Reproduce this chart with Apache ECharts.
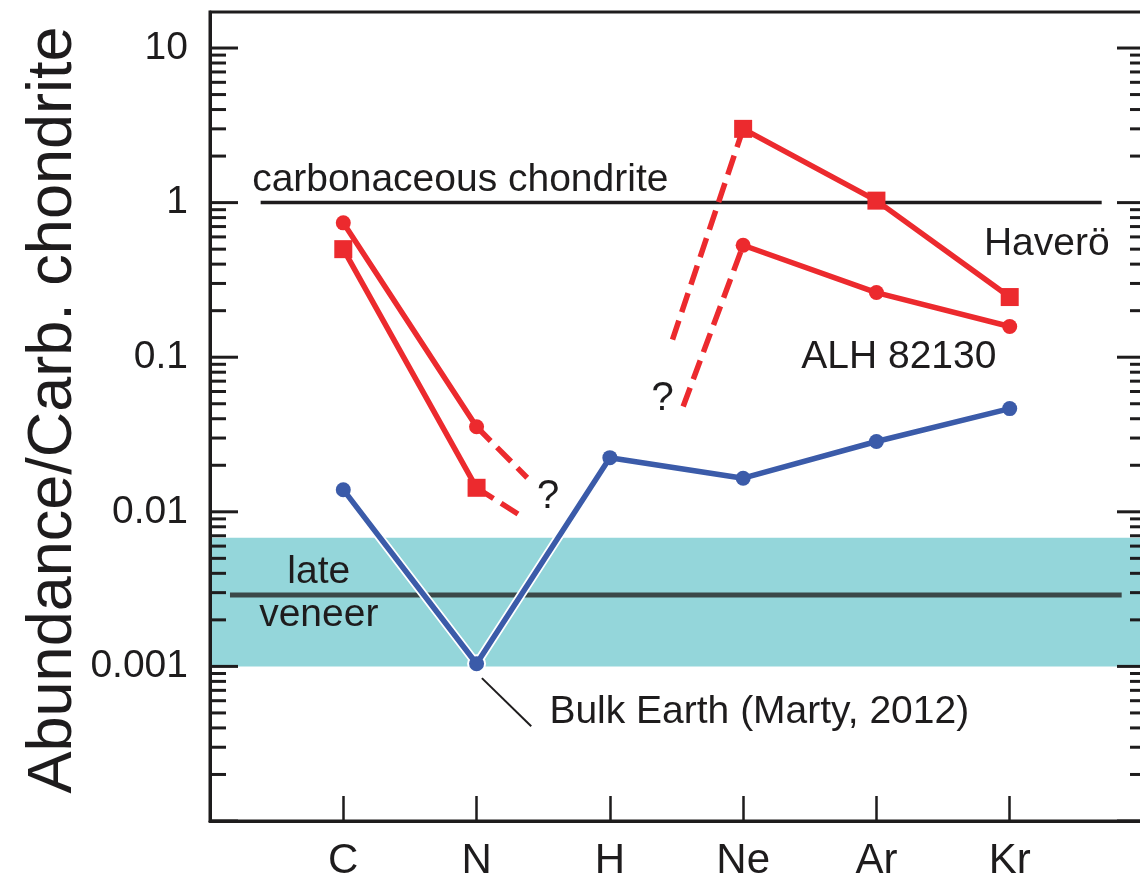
<!DOCTYPE html>
<html><head><meta charset="utf-8">
<script src="https://cdn.jsdelivr.net/npm/echarts@6/dist/echarts.min.js"></script>
<style>html,body{margin:0;padding:0;background:#fff}#c{width:1140px;height:886px}</style>
</head><body><div id="c"></div>
<script>
// ---- data ----
const categories = ['C', 'N', 'H', 'Ne', 'Ar', 'Kr'];
const haveroe   = [0.50, 0.0143, null, 3.0, 1.03, 0.245];   // squares
const alh82130  = [0.74, 0.0355, null, 0.53, 0.262, 0.158]; // circles
const bulkEarth = [0.0139, 0.00104, 0.0224, 0.0165, 0.0285, 0.0465];
// dashed "?" extensions [x (category position), value]
const haveroeExtN  = [[2, 0.0143], [2.36, 0.0091]];
const alhExtN      = [[2, 0.0355], [2.38, 0.0166]];
const haveroeExtNe = [[3.47, 0.13], [4, 3.0]];
const alhExtNe     = [[3.55, 0.048], [4, 0.53]];
// reference levels
const carbChondriteLevel = 1;
const lateVeneerLevel = 0.0029;
const lateVeneerBand = [0.001, 0.0068];
const yTickLabels = ['0.001', '0.01', '0.1', '1', '10'];
const leaderLine = [[2.04, 0.00084], [2.41, 0.00041]];
const annotations = [
  {text: 'carbonaceous chondrite', x: 0.32, y: 1.39, align: 'left'},
  {text: 'Haverö', x: 5.81, y: 0.53, align: 'left'},
  {text: 'ALH 82130', x: 4.44, y: 0.099, align: 'left'},
  {text: 'late', x: 0.82, y: 0.00405, align: 'center'},
  {text: 'veneer', x: 0.82, y: 0.00212, align: 'center'},
  {text: '?', x: 2.54, y: 0.0123, align: 'center'},
  {text: '?', x: 3.40, y: 0.053, align: 'center'},
  {text: 'Bulk Earth (Marty, 2012)', x: 2.55, y: 0.0005, align: 'left'}
];

const RED = '#ec2a2e', BLUE = '#3b5ba9', INK = '#1e1c1d';
const FONT = '"Liberation Sans", Arial, Helvetica, sans-serif';
const Y_MIN = 0.0001, Y_MAX = 17.1, X_MIN = 0, X_MAX = 7;

const toXY = arr => arr.map((v, i) => [i + 1, v == null ? '-' : v]);

// log-axis tick marks (1..9 x 10^n)
const tickData = [];
for (let e = -4; e <= 1; e++) {
  for (let k = 1; k <= 9; k++) {
    const v = k * Math.pow(10, e);
    if (v <= Y_MAX) tickData.push([0, v, k === 1 ? 1 : 0]);
  }
}

const chart = echarts.init(document.getElementById('c'), null, {renderer: 'canvas'});
chart.setOption({
  animation: false,
  backgroundColor: '#fff',
  textStyle: {fontFamily: FONT},
  grid: {left: 210, top: 12, width: 933, height: 809, outerBoundsMode: 'none', containLabel: false,
         show: true, borderColor: INK, borderWidth: 3, backgroundColor: 'transparent'},
  xAxis: {
    type: 'value', min: X_MIN, max: X_MAX, interval: 1,
    splitLine: {show: false},
    axisLine: {lineStyle: {color: INK, width: 3}},
    axisTick: {inside: true, length: 25, lineStyle: {color: INK, width: 2.5}},
    axisLabel: {
      fontSize: 42, color: INK, margin: 19, fontFamily: FONT,
      formatter: v => categories[Math.round(v) - 1] || ''
    }
  },
  yAxis: {
    type: 'log', logBase: 10, min: Y_MIN, max: Y_MAX, splitNumber: 5,
    splitLine: {show: false},
    axisLine: {lineStyle: {color: INK, width: 3}},
    axisTick: {show: false},
    axisLabel: {
      fontSize: 39, color: INK, margin: 22, fontFamily: FONT,
      formatter: v => {
        const e = Math.log10(v), r = Math.round(e);
        if (Math.abs(e - r) > 1e-6) return '';
        return yTickLabels[r + 3] || '';
      }
    }
  },
  graphic: [{
    type: 'text', x: 54, y: 410, rotation: Math.PI / 2,
    style: {text: 'Abundance/Carb. chondrite', fill: INK, font: '63px ' + FONT, align: 'center', verticalAlign: 'middle'}
  }],
  series: [
    { // late veneer band + level line
      type: 'line', name: 'late veneer', z: 1, symbol: 'none',
      data: [[0.15, lateVeneerLevel], [6.84, lateVeneerLevel]],
      lineStyle: {color: '#3b4848', width: 5},
      markArea: {
        silent: true, z: 0,
        itemStyle: {color: '#94d6da'},
        data: [[{xAxis: X_MIN, yAxis: lateVeneerBand[0]}, {xAxis: X_MAX, yAxis: lateVeneerBand[1]}]]
      }
    },
    { // carbonaceous chondrite reference
      type: 'line', name: 'carbonaceous chondrite', z: 2, symbol: 'none',
      data: [[0.38, carbChondriteLevel], [6.69, carbChondriteLevel]],
      lineStyle: {color: INK, width: 3.5}
    },
    { // leader line to label
      type: 'line', z: 2, symbol: 'none', data: leaderLine,
      lineStyle: {color: INK, width: 2}
    },
    { // white halo under bulk earth
      type: 'line', z: 3, data: toXY(bulkEarth), symbol: 'circle', symbolSize: 19,
      itemStyle: {color: '#fff'}, lineStyle: {color: '#fff', width: 9}
    },
    {
      type: 'line', name: 'Bulk Earth', z: 4, data: toXY(bulkEarth), symbol: 'circle', symbolSize: 15,
      itemStyle: {color: BLUE}, lineStyle: {color: BLUE, width: 5.5}
    },
    {type: 'line', z: 4, symbol: 'none', data: haveroeExtN, lineStyle: {color: RED, width: 5.5, type: [20, 9]}},
    {type: 'line', z: 4, symbol: 'none', data: alhExtN, lineStyle: {color: RED, width: 5.5, type: [20, 9]}},
    {type: 'line', z: 4, symbol: 'none', data: haveroeExtNe, lineStyle: {color: RED, width: 5.5, type: [20, 9]}},
    {type: 'line', z: 4, symbol: 'none', data: alhExtNe, lineStyle: {color: RED, width: 5.5, type: [20, 9]}},
    {
      type: 'line', name: 'Haverö', z: 5, data: toXY(haveroe), symbol: 'rect', symbolSize: 18,
      connectNulls: false, itemStyle: {color: RED}, lineStyle: {color: RED, width: 5.5}
    },
    {
      type: 'line', name: 'ALH 82130', z: 5, data: toXY(alh82130), symbol: 'circle', symbolSize: 15,
      connectNulls: false, itemStyle: {color: RED}, lineStyle: {color: RED, width: 5.5}
    },
    { // annotations
      type: 'scatter', z: 6, symbolSize: 1, silent: true,
      itemStyle: {color: 'rgba(0,0,0,0)', opacity: 1},
      data: annotations.map(a => ({
        value: [a.x, a.y],
        label: {show: true, position: [0, 0], formatter: a.text, align: a.align, verticalAlign: 'middle',
                fontSize: a.text === '?' ? 40 : 39, color: INK, opacity: 1, fontFamily: FONT}
      }))
    },
    { // axis tick marks (left inside + right inside)
      type: 'custom', z: 7, silent: true, data: tickData,
      renderItem: (params, api) => {
        const v = api.value(1), major = api.value(2) === 1;
        const pL = api.coord([X_MIN, v]);
        const pR = api.coord([X_MAX, v]);
        return {type: 'group', children: [
          {type: 'line', shape: {x1: pL[0], y1: pL[1], x2: pL[0] + (major ? 28 : 16), y2: pL[1]}, style: {stroke: INK, lineWidth: 3}},
          {type: 'line', shape: {x1: pR[0], y1: pR[1], x2: pR[0] - (major ? 26 : 13), y2: pR[1]}, style: {stroke: INK, lineWidth: 3}}
        ]};
      }
    }
  ]
});
</script></body></html>
